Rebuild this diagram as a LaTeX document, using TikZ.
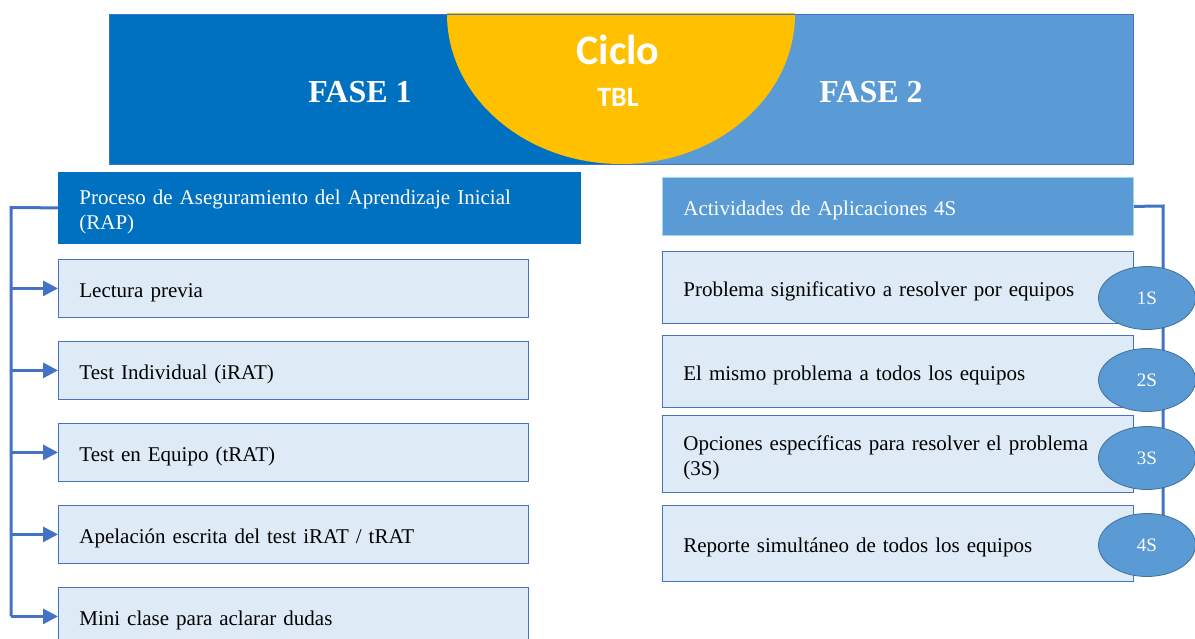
\documentclass[tikz,border=0pt]{standalone}
\usepackage{fontspec}
\setmainfont{Liberation Serif}
\newfontfamily\calibri{Carlito}
\usetikzlibrary{arrows.meta,shapes.geometric}
\definecolor{colD}{HTML}{0070C0}
\definecolor{colL}{HTML}{5B9BD5}
\definecolor{colP}{HTML}{DEEBF7}
\definecolor{colE}{HTML}{4472C4}
\definecolor{colG}{HTML}{FFC000}
\definecolor{colO}{HTML}{41719C}
\definecolor{colC}{HTML}{9DD9F3}
\tikzstyle{item}=[draw=colE, line width=0.8pt, fill=colP, anchor=north west, inner xsep=21pt, inner ysep=0pt, align=left, text height=22pt, text depth=4.5pt, font=\fontsize{21}{25}\selectfont]
\tikzstyle{twoline}=[text depth=29.5pt]
\tikzstyle{head}=[item, fill=colD, draw=colD, text=white]
\tikzstyle{conn}=[line width=3pt, colE]
\tikzstyle{tag}=[ellipse, draw=colO, line width=0.8pt, fill=colL, text=white, minimum width=97pt, minimum height=63pt, inner sep=0pt, font=\fontsize{19}{20}\selectfont]
\tikzstyle{fase}=[text=white, font=\bfseries\fontsize{32}{36}\selectfont]

\begin{document}
\begin{tikzpicture}[x=1pt, y=-1pt]
		\useasboundingbox (0,0) rectangle (1195,639);
		% header band
		\fill[colD] (109,14) rectangle (621,164);
		\fill[colL] (621,14) rectangle (1133,164);
		\begin{scope}
			\clip (109,14) rectangle (1133,164);
			\fill[colG] (621,14) ellipse [x radius=174, y radius=150];
		\end{scope}
		\draw[colE, line width=0.8pt] (109,14) rectangle (1133,164);
		\node[fase] (f1) at (360,92) {FASE 1};
		\node[fase] (f2) at (871,92) {FASE 2};
		\node[text=white, font=\calibri\bfseries\fontsize{42}{44}\selectfont] (ciclo) at (618,50) {Ciclo};
		\node[text=white, font=\calibri\bfseries\fontsize{28}{30}\selectfont] (tbl) at (618,97) {TBL};
		% fase 1
		\node[head, twoline, text width=480pt, minimum height=71pt] (rap) at (58,172) {Proceso de Aseguramiento del Aprendizaje Inicial\\(RAP)};
		\node[item, text width=428pt, minimum height=58pt] (b1) at (58,259) {Lectura previa};
		\node[item, text width=428pt, minimum height=58pt] (b2) at (58,341) {Test Individual (iRAT)};
		\node[item, text width=428pt, minimum height=58pt] (b3) at (58,423) {Test en Equipo (tRAT)};
		\node[item, text width=428pt, minimum height=58pt] (b4) at (58,505) {Apelación escrita del test iRAT / tRAT};
		\node[item, text width=428pt, minimum height=58pt] (b5) at (58,587) {Mini clase para aclarar dudas};
		\coordinate (lbus) at (11,207.5);
		\draw[conn] (rap.west) -- (lbus) -- (lbus |- b5.west);
		\foreach \b in {b1,b2,b3,b4,b5}
			\draw[conn, -{Triangle[length=15pt,width=15pt]}] (lbus |- \b.west) -- (\b.west);
		% fase 2
		\node[head, fill=colL, draw=colC, text width=429pt, minimum height=58pt] (act) at (662,177) {Actividades de Aplicaciones 4S};
		\node[item, text width=429pt, minimum height=72pt] (r1) at (662,251) {Problema significativo a resolver por equipos};
		\node[item, text width=429pt, minimum height=72pt] (r2) at (662,335) {El mismo problema a todos los equipos};
		\node[item, twoline, text width=429pt, minimum height=77pt] (r3) at (662,415) {Opciones específicas para resolver el problema\\(3S)};
		\node[item, text width=429pt, minimum height=76pt] (r4) at (662,505) {Reporte simultáneo de todos los equipos};
		\coordinate (rbus) at (1163,206);
		\draw[conn] (act.east) -- (rbus) -- (rbus |- r4.east);
		\node[tag] (s1) at (1147,298) {1S};
		\node[tag] (s2) at (1147,380) {2S};
		\node[tag] (s3) at (1147,458) {3S};
		\node[tag] (s4) at (1147,545) {4S};
	\end{tikzpicture}
\end{document}
